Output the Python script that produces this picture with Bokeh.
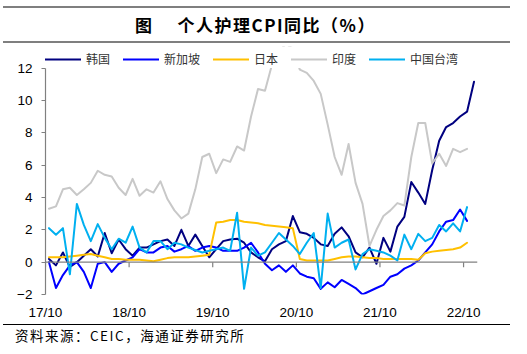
import numpy as np
from bokeh.plotting import figure
from bokeh.models import (Range1d, LinearAxis, FixedTicker, Legend, LegendItem,
                          Div, Span, BoxAnnotation, ColumnDataSource)
from bokeh.layouts import column
from bokeh.embed import file_html
from bokeh.resources import INLINE

# ---------------- data ----------------
tick_months = [0, 12, 24, 36, 48, 60]
tick_labels = ["17/10", "18/10", "19/10", "20/10", "21/10", "22/10"]
y_ticks = [-2, 0, 2, 4, 6, 8, 10, 12]

series_names = ["韩国", "新加坡", "日本", "印度", "中国台湾"]

korea = [0.2, -0.2, 0.6, -0.3, 0.0, 0.4, 0.8, 0.35, 1.8, 0.55,
         1.4, 0.8, 0.4, 0.9, 0.9, 1.1, 1.3, 1.4, 1.0, 2.0,
         1.0, 1.7, 1.0, 0.3, 0.8, 1.3, 1.4, 1.45, 1.2, 0.6,
         0.3, 0.05, 0.8, 1.1, 1.3, 2.85, 1.85, 1.75, 1.5, 1.1,
         1.0, 1.75, 2.15, 1.6, 0.6, 0.3, 0.9, -0.1, 1.5, 0.65,
         2.2, 2.8, 4.95, 4.3, 3.6, 5.7, 7.5, 8.35, 8.6, 9.0,
         9.3, 11.15]

singapore = [0.0, -1.6, -0.8, -0.2, 0.0, -0.6, -1.6, -0.1, 0.0, -0.6,
             -0.1, 0.1, 0.3, 0.8, 0.6, 0.6, 0.9, 1.0, 0.65, 0.8,
             1.0, 0.7, 0.9, 1.0, 0.9, 0.7, 0.7, 0.7, 0.9, 1.2,
             0.6, -0.1, -0.5, -0.2, -0.6, -0.2, -0.7, -0.9, -1.0, -1.65,
             -1.25, -1.55, -1.1, -1.35, -1.6, -2.0, -1.8, -1.6, -1.4, -0.9,
             -0.75, -0.4, -0.2, 0.1, 0.6, 1.1, 1.9, 2.5, 2.6, 3.25,
             2.55]

japan = [0.3, 0.3, 0.3, 0.35, 0.4, 0.45, 0.5, 0.4, 0.3, 0.2,
         0.2, 0.15, 0.15, 0.15, 0.1, 0.05, 0.15, 0.25, 0.3, 0.3,
         0.3, 0.35, 0.4, 0.45, 2.45, 2.5, 2.6, 2.6, 2.5, 2.45,
         2.4, 2.3, 2.25, 2.2, 2.15, 2.1, 0.2, 0.1, 0.1, 0.1,
         0.1, 0.2, 0.3, 0.35, 0.35, 0.3, 0.25, 0.25, 0.2, 0.2,
         0.2, 0.2, 0.2, 0.15, 0.55, 0.65, 0.7, 0.75, 0.8, 0.9,
         1.2]

india = [3.3, 3.45, 4.5, 4.6, 4.15, 4.5, 4.9, 5.65, 5.4, 5.3,
         4.6, 4.15, 5.15, 4.1, 4.5, 4.3, 5.0, 3.9, 3.2, 2.7,
         3.0, 4.5, 6.5, 6.7, 5.5, 6.35, 6.2, 7.15, 6.9, 9.0,
         10.7, 10.6, 12.2, 13.0, 13.5, 13.2, 11.9, 11.7, 11.2, 10.4,
         8.5, 6.5, 5.4, 7.3, 4.9, 3.6, 1.0, 2.0, 2.85, 3.2,
         3.65, 3.5, 6.5, 8.6, 8.6, 6.1, 6.7, 5.95, 7.0, 6.8,
         7.0]

taiwan = [2.1, 1.7, 2.1, -0.75, 3.6, 2.3, 1.3, 2.35, 1.5, 0.8,
          1.45, 1.2, 2.2, 0.9, 0.6, 1.3, 1.3, 0.8, 1.2, 1.1,
          0.9, 0.75, 0.6, 0.7, 0.8, 0.9, 0.7, 3.05, -1.65, 0.9,
          0.4, 0.6, 1.2, 1.8, 1.4, 1.0, 0.5, 1.2, 1.8, -1.6,
          3.0, 0.9, 1.2, 1.4, -0.45, 0.5, 0.8, 0.7, 0.6, 0.4,
          0.1, 1.7, 0.8, 1.75, 1.3, 1.5, 2.3, 1.9, 2.4, 1.9,
          3.4]

series_values = [korea, singapore, japan, india, taiwan]
series_colors = ["#000080", "#0000FF", "#FFC000", "#C8C8C8", "#00B0F0"]

# ---------------- figure ----------------
AXIS_GREY = "#808080"
LABEL_FONT = "Liberation Sans"
Y_MIN, Y_MAX = -2, 12          # axis extent
Y_VIEW_TOP = 13.33             # frame extends above 12 to host the legend

p = figure(width=527, height=277, output_backend="svg", toolbar_location=None,
           x_range=Range1d(0, 62), y_range=Range1d(Y_MIN, Y_VIEW_TOP),
           min_border_left=45, min_border_right=50,
           min_border_top=1, min_border_bottom=27,
           x_axis_location=None, y_axis_location=None)
p.outline_line_color = None
p.xgrid.visible = False
p.ygrid.visible = False
p.background_fill_color = "white"
p.border_fill_color = "white"

# y axis
yax = LinearAxis(ticker=FixedTicker(ticks=y_ticks), bounds=(Y_MIN, Y_MAX))
yax.axis_line_color = AXIS_GREY
yax.axis_line_width = 1.2
yax.major_tick_line_color = AXIS_GREY
yax.major_tick_out = 4
yax.major_tick_in = 0
yax.minor_tick_line_color = None
yax.major_label_standoff = 9
yax.major_label_text_font = LABEL_FONT
yax.major_label_text_font_size = "13.5px"
yax.major_label_text_color = "#000000"
p.add_layout(yax, "left")

# x labels at bottom (no line / ticks)
xax = LinearAxis(ticker=FixedTicker(ticks=tick_months),
                 major_label_overrides={m: l for m, l in zip(tick_months, tick_labels)})
xax.axis_line_color = None
xax.major_tick_line_color = None
xax.major_tick_out = 0
xax.major_tick_in = 0
xax.minor_tick_line_color = None
xax.major_label_standoff = 10
xax.major_label_text_font = LABEL_FONT
xax.major_label_text_font_size = "13.5px"
xax.major_label_text_color = "#000000"
p.add_layout(xax, "below")

# zero line with downward ticks
p.add_layout(Span(location=0, dimension="width", line_color=AXIS_GREY, line_width=1.2))
p.ray(x=tick_months, y=[0] * len(tick_months), length=5, length_units="screen",
      angle=-90, angle_units="deg", line_color=AXIS_GREY, line_width=1.2)

items = []
for name, vals, col in zip(series_names, series_values, series_colors):
    xs = np.arange(len(vals)) + 0.5
    src = ColumnDataSource(dict(x=xs, y=vals))
    r = p.line("x", "y", source=src, line_color=col, line_width=2,
               line_join="round", line_cap="round")
    items.append(LegendItem(label=name, renderers=[r]))

# plot area ends at 12: mask anything drawn above it
p.add_layout(BoxAnnotation(bottom=Y_MAX, fill_color="white", fill_alpha=1.0,
                           line_color=None))

legend = Legend(items=items, orientation="horizontal", location=(0, 227),
                glyph_width=36, glyph_height=12, label_height=12,
                label_standoff=5, spacing=13, padding=0, margin=0,
                border_line_color=None, background_fill_alpha=0,
                label_text_font="Noto Sans CJK SC", label_text_font_size="12px",
                label_text_color="#333333", label_text_baseline="middle")
p.add_layout(legend, "center")

# ---------------- title & source ----------------
title_html = (
    '<div style="position:relative;width:507px;height:45px;">'
    '<div style="position:absolute;top:6px;left:0;width:507px;border-top:2px solid #7f7f7f;"></div>'
    '<div style="position:absolute;top:14px;left:0;width:505px;text-align:center;'
    'font-family:\'Noto Sans CJK SC\';font-weight:bold;font-size:17px;line-height:22px;'
    'letter-spacing:1.5px;color:#000;white-space:nowrap;">图<span style="display:inline-block;width:24px"></span>'
    '个人护理CPI同比（%）</div>'
    '<div style="position:absolute;top:41px;left:0;width:507px;border-top:2px solid #7f7f7f;"></div>'
    '</div>'
)
title_div = Div(text=title_html, width=510, height=45, margin=(0, 0, 0, 3))

source_html = (
    '<div style="position:relative;width:507px;height:32px;">'
    '<div style="position:absolute;top:2px;left:0;width:507px;border-top:1.5px solid #000;"></div>'
    '<div style="position:absolute;top:4px;left:12px;font-family:\'Noto Sans CJK SC\';'
    'font-size:13.5px;line-height:18px;letter-spacing:1.5px;color:#000;white-space:nowrap;">'
    '资料来源：CEIC，海通证券研究所</div>'
    '</div>'
)
source_div = Div(text=source_html, width=510, height=32, margin=(0, 0, 0, 3))

layout = column(title_div, p, source_div, spacing=0)

open("out.html", "w").write(file_html(layout, INLINE))
